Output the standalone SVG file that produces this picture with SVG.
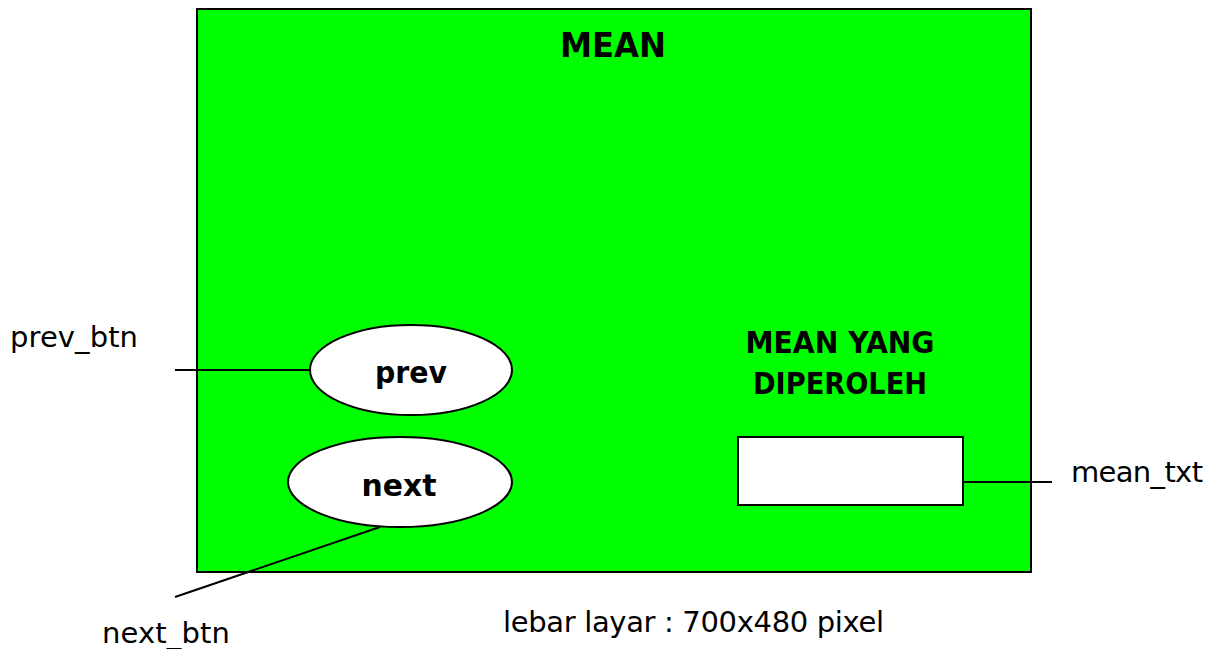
<svg xmlns="http://www.w3.org/2000/svg" width="1212" height="649" viewBox="0 0 1212 649">
<style>
.ln{stroke:#000;stroke-width:2;fill:none}
.b{font-family:"DejaVu Sans",Verdana,sans-serif;font-weight:bold;fill:#000}
.r{font-family:"DejaVu Sans",Verdana,sans-serif;font-size:29px;fill:#000}
</style>
<rect width="1212" height="649" fill="#fff"/>
<g id="screen">
<rect x="197" y="9" width="834" height="563" fill="#00ff00" stroke="#000" stroke-width="2"/>
<text class="b" x="613" y="57" font-size="34" text-anchor="middle" textLength="106" lengthAdjust="spacingAndGlyphs">MEAN</text>
<text class="b" x="840" y="353" font-size="30" text-anchor="middle" textLength="189" lengthAdjust="spacingAndGlyphs">MEAN YANG</text>
<text class="b" x="840" y="394" font-size="30" text-anchor="middle" textLength="174" lengthAdjust="spacingAndGlyphs">DIPEROLEH</text>
</g>
<g id="connectors">
<line class="ln" x1="175" y1="370" x2="310" y2="370"/>
<line class="ln" x1="175" y1="597" x2="380" y2="527"/>
<line class="ln" x1="963" y1="482" x2="1052" y2="482"/>
</g>
<g id="prev">
<ellipse cx="411" cy="370" rx="101" ry="45" fill="#fff" stroke="#000" stroke-width="2"/>
<text class="b" x="411" y="383" font-size="31" text-anchor="middle" textLength="72" lengthAdjust="spacingAndGlyphs">prev</text>
</g>
<g id="next">
<ellipse cx="400" cy="482" rx="112" ry="45" fill="#fff" stroke="#000" stroke-width="2"/>
<text class="b" x="399" y="496" font-size="31" text-anchor="middle" textLength="75" lengthAdjust="spacingAndGlyphs">next</text>
</g>
<g id="mean_box">
<rect x="738" y="437" width="225" height="68" fill="#fff" stroke="#000" stroke-width="2"/>
</g>
<g id="labels">
<text class="r" x="10" y="347" textLength="128" lengthAdjust="spacing">prev_btn</text>
<text class="r" x="102" y="643" textLength="128" lengthAdjust="spacing">next_btn</text>
<text class="r" x="1071" y="482" textLength="132" lengthAdjust="spacing">mean_txt</text>
<text class="r" x="503" y="632" textLength="381" lengthAdjust="spacing">lebar layar : 700x480 pixel</text>
</g>
</svg>
